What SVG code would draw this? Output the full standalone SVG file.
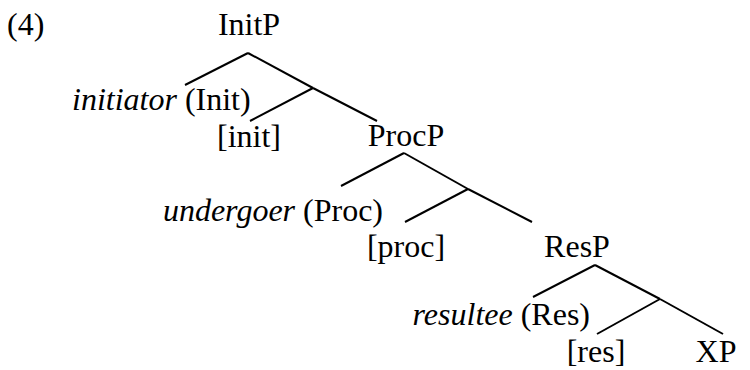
<svg xmlns="http://www.w3.org/2000/svg" width="750" height="370" viewBox="0 0 750 370">
<style>
text{font-family:"Liberation Serif","Times New Roman",serif;font-size:32px;fill:#000}
.m{text-anchor:middle}
.e{text-anchor:end}
.i{font-style:italic}
.c line{stroke:#000;stroke-width:2;stroke-linecap:butt}
</style>
<rect width="750" height="370" fill="#fff"/>
<g id="label4"><text x="7" y="35">(4)</text></g>
<g id="InitP"><text class="m" x="249" y="35">InitP</text></g>
<g id="initiator"><text x="72" y="110"><tspan class="i">initiator</tspan> (Init)</text></g>
<g id="init"><text class="m" x="249" y="147">[init]</text></g>
<g id="ProcP"><text class="m" x="406" y="146">ProcP</text></g>
<g id="undergoer"><text class="e" x="383" y="221"><tspan class="i">undergoer</tspan> (Proc)</text></g>
<g id="proc"><text class="m" x="406" y="257">[proc]</text></g>
<g id="ResP"><text class="m" x="577" y="257">ResP</text></g>
<g id="resultee"><text class="e" x="590" y="325"><tspan class="i">resultee</tspan> (Res)</text></g>
<g id="res"><text class="m" x="596" y="362">[res]</text></g>
<g id="XP"><text class="m" x="716" y="362">XP</text></g>
<g id="connectors" class="c">
<line x1="248" y1="53" x2="185" y2="85"/>
<line x1="248" y1="53" x2="313" y2="88"/>
<line x1="313" y1="88" x2="250" y2="121"/>
<line x1="313" y1="88" x2="377" y2="121"/>
<line x1="404" y1="153" x2="341" y2="186"/>
<line x1="404" y1="153" x2="468" y2="189"/>
<line x1="468" y1="189" x2="405" y2="222"/>
<line x1="468" y1="189" x2="532" y2="222"/>
<line x1="595" y1="265" x2="533" y2="297"/>
<line x1="595" y1="265" x2="660" y2="299"/>
<line x1="660" y1="299" x2="597" y2="334"/>
<line x1="660" y1="299" x2="723" y2="334"/>
</g>
</svg>
